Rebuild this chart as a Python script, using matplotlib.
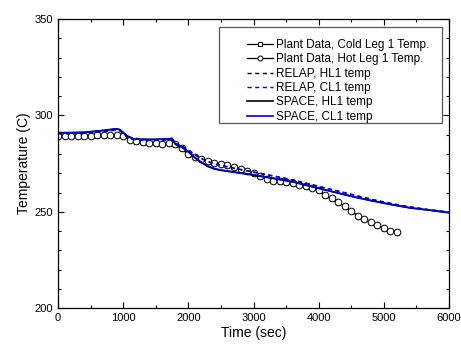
import matplotlib
matplotlib.use("Agg")
import matplotlib.pyplot as plt
from matplotlib.patches import Rectangle
from matplotlib.ticker import MultipleLocator

plt.rcParams["font.family"] = ["Liberation Sans", "DejaVu Sans"]

# plant data (every 100 s)
t_plant = [0, 100, 200, 300, 400, 500, 600, 700, 800, 900,
           1000, 1100, 1200, 1300, 1400, 1500, 1600, 1700, 1800, 1900,
           2000, 2100, 2200, 2300, 2400, 2500, 2600, 2700, 2800, 2900,
           3000, 3100, 3200, 3300, 3400, 3500, 3600, 3700, 3800, 3900,
           4000, 4100, 4200, 4300, 4400, 4500, 4600, 4700, 4800, 4900,
           5000, 5100, 5200]
hot_leg = [289.5, 289.4, 289.5, 289.5, 289.4, 289.5, 289.6, 289.6, 289.8, 290.0,
           289.5, 287.5, 286.5, 286.0, 285.8, 285.5, 285.3, 285.5, 285.0, 283.0,
           280.0, 278.5, 277.5, 276.3, 275.5, 275.0, 274.3, 273.3, 272.3, 271.0,
           270.0, 268.5, 267.0, 266.2, 265.8, 265.3, 264.8, 264.0, 263.3, 262.5,
           261.3, 258.5, 257.0, 255.0, 253.0, 250.5, 248.0, 246.5, 244.5, 243.0,
           241.5, 240.0, 239.3]
cold_leg = [289.3, 289.3, 289.4, 289.4, 289.3, 289.4, 289.5, 289.5, 289.7, 289.8,
            289.3, 287.3, 286.3, 285.9, 285.6, 285.4, 285.2, 285.3, 284.8, 282.5,
            279.6, 278.2, 277.2, 276.0, 275.2, 274.7, 274.0, 273.0, 272.0, 270.8,
            269.7, 268.2, 266.8, 266.0, 265.5, 265.0, 264.5, 263.8, 263.0, 262.2,
            261.0, 258.2, 256.7, 254.7, 252.7, 250.2, 247.8, 246.2, 244.2, 242.8,
            241.2, 239.8, 239.0]

# code results
t_model = [0, 200, 400, 600, 800, 900, 950, 1050, 1150, 1300, 1500, 1700, 1750,
           1800, 1900, 2000, 2100, 2200, 2300, 2400, 2500, 2700, 3000, 3300,
           3600, 3900, 4200, 4500, 4800, 5100, 5400, 5700, 6000]
relap_hl1 = [290.5, 290.6, 290.8, 291.3, 292.0, 292.4, 292.0, 289.0, 287.5, 287.0,
             287.0, 287.3, 287.5, 285.5, 284.0, 282.0, 279.5, 277.5, 276.0, 274.8,
             274.0, 272.5, 270.5, 268.5, 266.5, 264.0, 261.5, 259.0, 256.5, 254.3,
             252.5, 251.0, 249.8]
relap_cl1 = [290.6, 290.7, 290.9, 291.4, 292.1, 292.5, 292.1, 289.2, 287.6, 287.1,
             287.1, 287.4, 287.6, 285.6, 284.2, 282.2, 279.7, 277.7, 276.2, 275.0,
             274.2, 272.7, 270.7, 268.7, 266.6, 264.1, 261.6, 259.1, 256.6, 254.4,
             252.6, 251.1, 249.9]
space_hl1 = [291.0, 291.0, 291.2, 291.8, 292.6, 293.0, 292.5, 289.5, 287.8, 287.5,
             287.5, 287.8, 288.0, 285.0, 283.5, 281.0, 278.0, 275.5, 273.5, 272.2,
             271.5, 270.5, 269.0, 267.3, 265.5, 263.0, 260.5, 258.0, 255.8, 253.8,
             252.0, 250.8, 249.5]
space_cl1 = [291.1, 291.1, 291.3, 291.9, 292.7, 293.1, 292.6, 289.6, 287.9, 287.6,
             287.6, 287.9, 288.1, 285.2, 283.7, 281.2, 278.2, 275.7, 273.7, 272.4,
             271.7, 270.7, 269.2, 267.5, 265.6, 263.1, 260.6, 258.1, 255.9, 253.9,
             252.1, 250.9, 249.6]

fig = plt.figure(figsize=(4.61, 3.47), dpi=100)
ax = fig.add_axes([0.126, 0.112, 0.848, 0.833])

ax.plot(t_plant, cold_leg, color="black", lw=0.9, marker="s", ms=3.2,
        mfc="white", mec="black", mew=0.7, label="Plant Data, Cold Leg 1 Temp.")
ax.plot(t_plant, hot_leg, color="black", lw=0.9, marker="o", ms=4.8,
        mfc="white", mec="black", mew=0.7, label="Plant Data, Hot Leg 1 Temp.")
ax.plot(t_model, relap_hl1, color="black", lw=1, ls=(0, (3, 2.5)), label="RELAP, HL1 temp")
ax.plot(t_model, relap_cl1, color="blue", lw=1, ls=(0, (3, 2.5)), label="RELAP, CL1 temp")
ax.plot(t_model, space_hl1, color="black", lw=1.2, label="SPACE, HL1 temp")
ax.plot(t_model, space_cl1, color="#0000cc", lw=1.2, label="SPACE, CL1 temp")

ax.set_xlim(0, 6000)
ax.set_ylim(200, 350)
ax.xaxis.set_major_locator(MultipleLocator(1000))
ax.xaxis.set_minor_locator(MultipleLocator(500))
ax.yaxis.set_major_locator(MultipleLocator(50))
ax.yaxis.set_minor_locator(MultipleLocator(10))
ax.tick_params(which="both", direction="in", top=True, right=True, labelsize=8)
ax.tick_params(which="major", length=4, width=0.8)
ax.tick_params(which="minor", length=2.5, width=0.8)
for s in ax.spines.values():
    s.set_linewidth(0.9)

ax.set_xlabel("Time (sec)", fontsize=10, labelpad=2)
ax.set_ylabel("Temperature (C)", fontsize=10, labelpad=3)

# legend box drawn separately (wide left margin as in original)
ax.add_patch(Rectangle((0.412, 0.640), 0.570, 0.332, transform=ax.transAxes,
                       facecolor="white", edgecolor="#555555", lw=0.9, zorder=4))
leg = ax.legend(loc="upper left", bbox_to_anchor=(0.483, 0.931), borderaxespad=0,
                borderpad=0, fontsize=8.5, handlelength=2.2, handletextpad=0.25,
                labelspacing=0.2, frameon=False, markerscale=0.75)
leg.set_zorder(5)

fig.savefig("out.png", dpi=100)
